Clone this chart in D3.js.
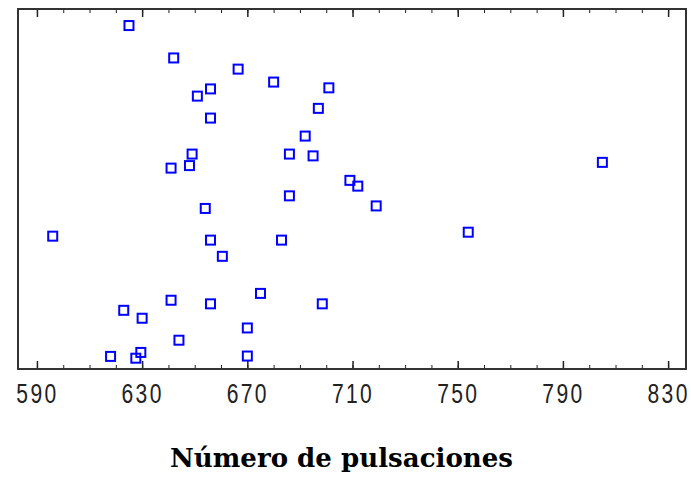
<!DOCTYPE html>
<html>
<head>
<meta charset="utf-8">
<script src="https://cdn.jsdelivr.net/npm/d3@7"></script>
<style>
  html, body { margin: 0; padding: 0; background: #fff; }
  svg { display: block; }
</style>
</head>
<body>
<svg id="chart" width="691" height="480"></svg>
<script>
// Pulse counts (one square per observation)
const pulsaciones = [
  625, 642, 666.5, 680, 701, 656, 651, 697, 656, 692,
  649, 686, 695, 648, 641, 805, 709, 712, 686, 654,
  719, 596, 754, 656, 683, 660.5, 675, 641, 656, 698.5,
  623, 630, 670, 644, 629.5, 618, 670, 627.6
];
// Vertical jitter of each observation (0 = bottom, 100 = top)
const jitter = [
  95.4, 86.4, 83.3, 79.7, 78.1, 77.8, 75.8, 72.4, 69.7, 64.7,
  59.7, 59.7, 59.2, 56.5, 55.8, 57.4, 52.4, 50.8, 48.1, 44.6,
  45.3, 36.9, 38.0, 35.8, 35.8, 31.3, 21.0, 19.1, 18.1, 18.1,
  16.3, 14.1, 11.4, 8.0, 4.6, 3.5, 3.6, 3.0
];
const majorTicks = [590, 630, 670, 710, 750, 790, 830];
const minorTicks = d3.range(590, 831, 10);
const xTitle = "Número de pulsaciones";

const svg = d3.select("#chart");
const plotLeft = 18, plotRight = 686, plotTop = 9, plotBottom = 369;

const x = d3.scaleLinear().domain([582.8, 836.8]).range([plotLeft, plotRight]);
const y = d3.scaleLinear().domain([0, 100]).range([plotBottom, plotTop]);

// Minor ticks (top and bottom, pointing inward)
svg.append("g")
  .attr("transform", `translate(0,${plotBottom})`)
  .call(d3.axisBottom(x).tickValues(minorTicks).tickSize(-4).tickFormat(""))
  .call(g => g.select(".domain").remove())
  .call(g => g.selectAll("line").attr("stroke", "#222"));
svg.append("g")
  .attr("transform", `translate(0,${plotTop})`)
  .call(d3.axisTop(x).tickValues(minorTicks).tickSize(-4).tickFormat(""))
  .call(g => g.select(".domain").remove())
  .call(g => g.selectAll("line").attr("stroke", "#222"));

// Major ticks with labels on the bottom axis (narrow, tall digits)
svg.append("g")
  .attr("transform", `translate(0,${plotBottom})`)
  .call(d3.axisBottom(x).tickValues(majorTicks).tickSize(-8).tickPadding(15).tickFormat(d3.format("d")))
  .call(g => g.select(".domain").remove())
  .call(g => g.selectAll("line").attr("stroke", "#222").attr("stroke-width", 1.5))
  .call(g => g.selectAll("text")
    .attr("fill", "#222")
    .attr("transform", "scale(0.78,1)")
    .style("font-family", "'Liberation Sans', sans-serif")
    .style("font-size", "27px")
    .style("letter-spacing", "3px"));
svg.append("g")
  .attr("transform", `translate(0,${plotTop})`)
  .call(d3.axisTop(x).tickValues(majorTicks).tickSize(-8).tickFormat(""))
  .call(g => g.select(".domain").remove())
  .call(g => g.selectAll("line").attr("stroke", "#222").attr("stroke-width", 1.5));

// Plot frame
svg.append("rect")
  .attr("x", plotLeft).attr("y", plotTop)
  .attr("width", plotRight - plotLeft).attr("height", plotBottom - plotTop)
  .attr("fill", "none").attr("stroke", "#333").attr("stroke-width", 2);

// Observations
const pts = pulsaciones.map((v, i) => ({ v, j: jitter[i] }));
const s = 9;
svg.append("g").selectAll("rect")
  .data(pts)
  .join("rect")
  .attr("x", d => x(d.v) - s / 2)
  .attr("y", d => y(d.j) - s / 2)
  .attr("width", s).attr("height", s)
  .attr("fill", "none")
  .attr("stroke", "#0000ff")
  .attr("stroke-width", 2);

// Axis title
svg.append("text")
  .attr("x", 341.5).attr("y", 467)
  .attr("text-anchor", "middle")
  .attr("textLength", 343)
  .attr("lengthAdjust", "spacingAndGlyphs")
  .style("font-family", "'DejaVu Serif', serif")
  .style("font-weight", "bold")
  .style("font-size", "26px")
  .attr("fill", "#000")
  .text(xTitle);
</script>
</body>
</html>
